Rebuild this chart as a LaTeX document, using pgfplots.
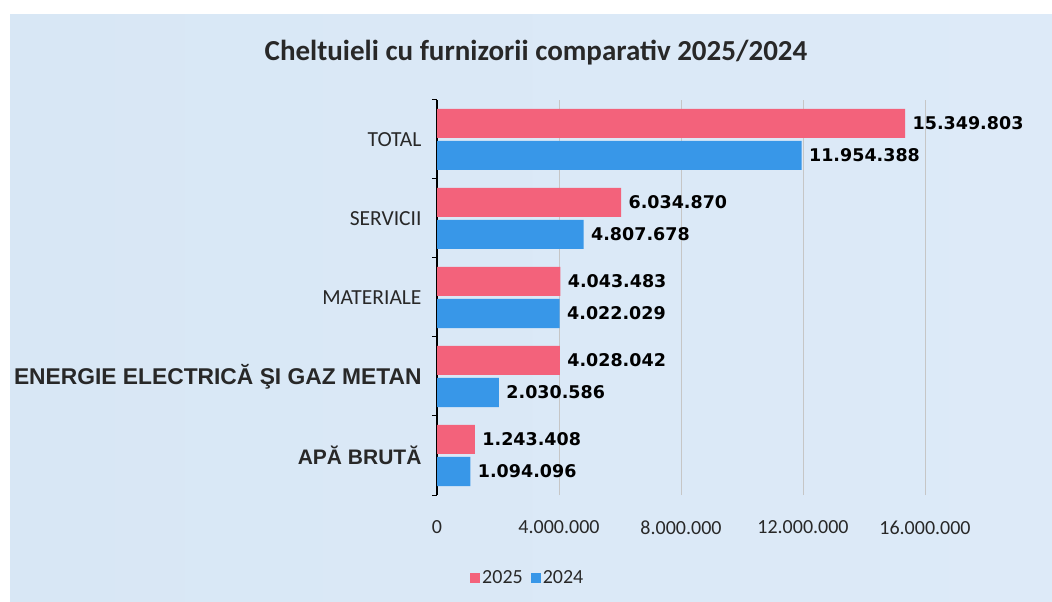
\documentclass[border=0pt]{standalone}
\usepackage{pgfplots}
\pgfplotsset{compat=1.18}
\usepackage{fontspec}
\setmainfont{Carlito}
\newfontfamily\lib{Liberation Sans}
\newfontfamily\dvs{DejaVu Sans}
\definecolor{pinkbar}{RGB}{243,98,123}
\definecolor{bluebar}{RGB}{56,151,232}
\definecolor{bgl}{RGB}{216,231,245}
\definecolor{bgm}{RGB}{239,245,251}
\definecolor{bgr}{RGB}{221,234,248}
\definecolor{txt}{RGB}{40,40,40}
\begin{document}
\begin{tikzpicture}
\fill[white] (0,0) rectangle (1052bp,602bp);
\shade[left color=bgl, middle color=bgm, right color=bgr] (10bp,0) rectangle (1052bp,587bp);
\node[font=\fontsize{29bp}{34bp}\selectfont\bfseries, text=txt] at (536bp,549bp) {Cheltuieli cu furnizorii comparativ 2025/2024};
\begin{axis}[
  at={(437bp,107bp)}, anchor=south west,
  scale only axis, width=488bp, height=395bp,
  xbar, bar width=29bp,
  xmin=0, xmax=16000000,
  ymin=-0.5, ymax=4.5,
  axis x line*=bottom, axis y line*=left,
  x axis line style={draw=none},
  y axis line style={black, line width=1.6bp},
  xtick={0,4000000,8000000,12000000,16000000},
  xticklabels={0,4.000.000,8.000.000,12.000.000,16.000.000},
  scaled x ticks=false,
  xticklabel style={font=\fontsize{20bp}{24bp}\selectfont, text=txt, yshift=-22bp},
  xmajorgrids, major grid style={gray!45, line width=0.8bp},
  ytick={0,1,2,3,4},
  yticklabels={{\lib\bfseries\fontsize{21bp}{24bp}\selectfont APĂ BRUTĂ},{\lib\bfseries\fontsize{22.8bp}{24bp}\selectfont ENERGIE ELECTRICĂ ŞI GAZ METAN},MATERIALE,SERVICII,TOTAL},
  yticklabel style={font=\fontsize{21.5bp}{24bp}\selectfont, text=txt, xshift=-12bp},
  minor ytick={-0.5,0.5,1.5,2.5,3.5,4.5},
  major tick length=0pt, minor tick length=5bp, tick align=outside,
  minor y tick style={black, line width=1bp},
  minor x tick style={draw=none},
  nodes near coords, point meta=explicit symbolic,
  nodes near coords style={font=\dvs\bfseries\fontsize{17.5bp}{20bp}\selectfont, text=black, anchor=west, xshift=4bp},
  legend style={at={(0.186,-0.21)}, anchor=center, legend columns=2, draw=none, fill=none,
    font=\fontsize{20bp}{24bp}\selectfont, text=txt,
    /tikz/every even column/.append style={column sep=6bp}},
]
\addplot[fill=pinkbar, draw=none, bar shift=16bp,
  legend image code/.code={\fill[pinkbar] (0bp,-5bp) rectangle (10bp,5bp);}]
  coordinates {(1243408,0) [1.243.408] (4028042,1) [4.028.042] (4043483,2) [4.043.483] (6034870,3) [6.034.870] (15349803,4) [15.349.803]};
\addlegendentry{2025}
\addplot[fill=bluebar, draw=none, bar shift=-16bp,
  legend image code/.code={\fill[bluebar] (0bp,-5bp) rectangle (10bp,5bp);}]
  coordinates {(1094096,0) [1.094.096] (2030586,1) [2.030.586] (4022029,2) [4.022.029] (4807678,3) [4.807.678] (11954388,4) [11.954.388]};
\addlegendentry{2024}
\end{axis}
\end{tikzpicture}
\end{document}
